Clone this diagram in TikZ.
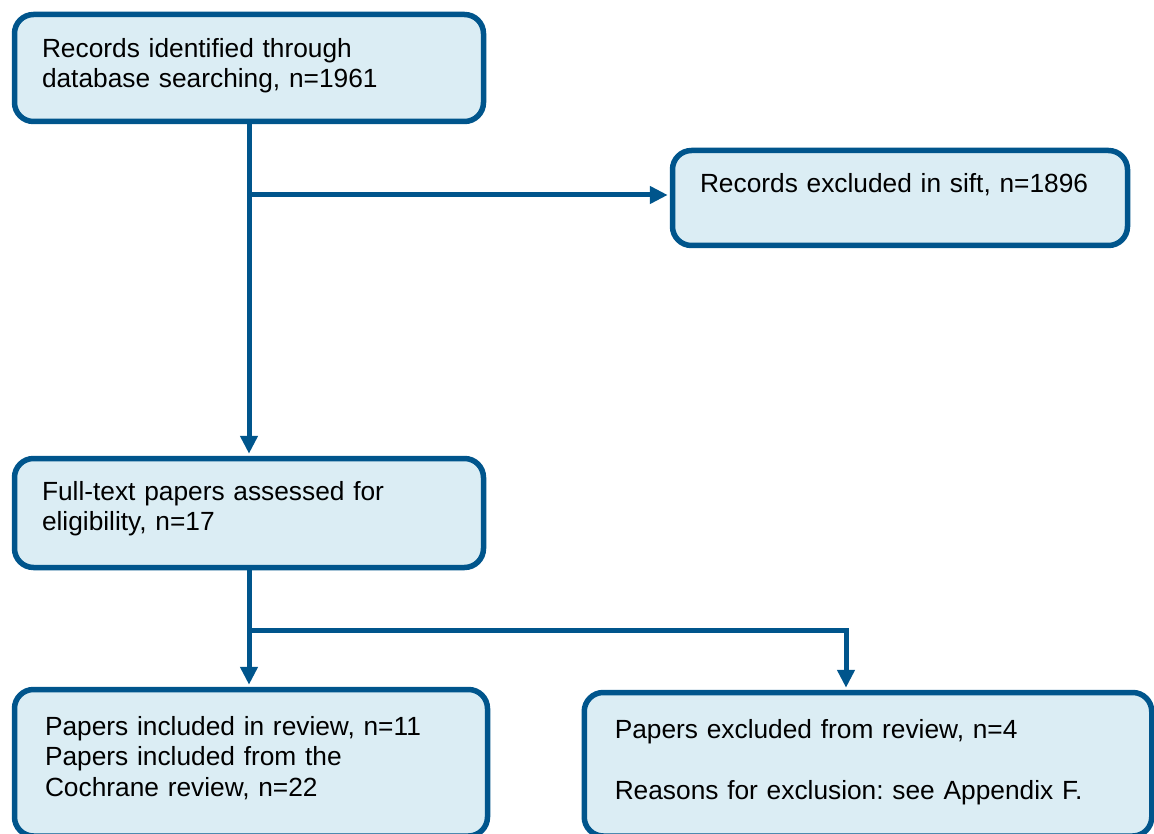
\documentclass[tikz,border=0pt]{standalone}
\usepackage{fontspec}
\setmainfont{Liberation Sans}
\usetikzlibrary{arrows.meta}
\definecolor{boxline}{RGB}{0,85,140}
\definecolor{boxfill}{RGB}{219,237,244}
\tikzset{
  flowbox/.style={draw=boxline, fill=boxfill, line width=5.5pt, rounded corners=19pt,
    align=left, inner ysep=0pt, text height=19pt,
    font=\fontsize{26.3}{30.6}\selectfont\frenchspacing},
  conn/.style={draw=boxline, line width=5pt},
  arr/.style={conn, -{Triangle[length=18pt,width=17pt]}, shorten >=2pt}
}
\begin{document}
\begin{tikzpicture}[x=1pt,y=-1pt]
\useasboundingbox (0,0) rectangle (1154,834);
\node[flowbox, minimum width=469pt, minimum height=107pt, inner xsep=27.5pt,
  text width=414pt, text depth=40.4pt] (b1) at (249,68)
  {Records identified through\\database searching, n=1961};
\node[flowbox, minimum width=455pt, minimum height=95pt, inner xsep=27.5pt,
  text width=400pt, text depth=29pt] (b2) at (900,198)
  {Records excluded in sift, n=1896};
\node[flowbox, minimum width=469pt, minimum height=109pt, inner xsep=27.5pt,
  text width=414pt, text depth=45pt] (b3) at (249,513)
  {Full-text papers assessed for\\eligibility, n=17};
\node[flowbox, minimum width=473pt, minimum height=146.5pt, inner xsep=30.5pt,
  text width=412pt, text depth=74.5pt] (b4) at (251,762.75)
  {Papers included in review, n=11\\Papers included from the\\Cochrane review, n=22};
\node[flowbox, minimum width=567.5pt, minimum height=143.5pt, inner xsep=30.5pt,
  text width=506.5pt, text depth=71.5pt] (b5) at (868,764.25)
  {Papers excluded from review, n=4\\[30.6pt]Reasons for exclusion: see Appendix F.};
\coordinate (j1) at (249,195);
\coordinate (j2) at (249,630);
\coordinate (j3) at (846,630);
\draw[arr] (b1.south) -- (b3.north);
\draw[arr] (j1) -- (j1 -| b2.west);
\draw[conn] (b3.south) -- (j2);
\draw[arr] (j2) -- (j2 |- b4.north);
\draw[conn, line join=miter] (j2) -- (j3) -- ++(0,20);
\draw[arr] (j3) -- (j3 |- b5.north);
\end{tikzpicture}
\end{document}
